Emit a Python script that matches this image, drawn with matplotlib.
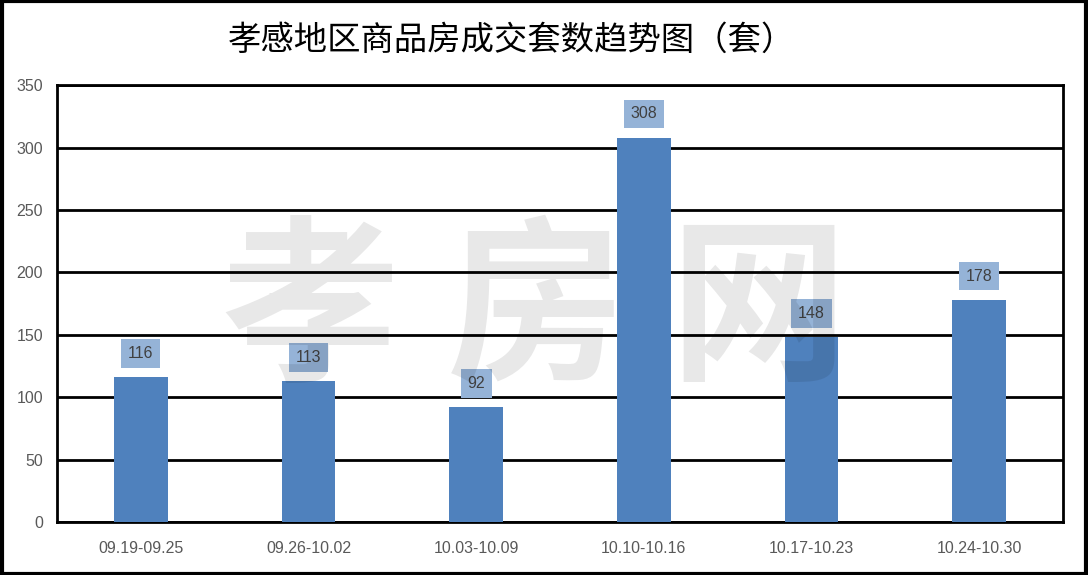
import matplotlib.pyplot as plt
from matplotlib.patches import Rectangle

plt.rcParams['font.family'] = ['Noto Sans CJK SC', 'DejaVu Sans']

# data
weeks = ["09.19-09.25", "09.26-10.02", "10.03-10.09",
         "10.10-10.16", "10.17-10.23", "10.24-10.30"]
deals = [116, 113, 92, 308, 148, 178]
y_ticks = [0, 50, 100, 150, 200, 250, 300, 350]

title_text = "孝感地区商品房成交套数趋势图（套）"
watermark_chars = ["孝", "房", "网"]

bar_color = "#4F81BD"
label_box_color = "#95B3D7"
tick_color = "#595959"

fig = plt.figure(figsize=(10.88, 5.75), dpi=100)
ax = fig.add_axes([0.0524, 0.0922, 0.9246, 0.7598])

x_pos = list(range(len(weeks)))
ax.bar(x_pos, deals, width=0.32, color=bar_color, zorder=3)

for crrt_x, crrt_val in zip(x_pos, deals):
    ax.annotate(str(crrt_val), xy=(crrt_x, crrt_val),
                xytext=(0, 17), textcoords="offset points",
                ha="center", va="center", fontsize=11.5,
                family=["Liberation Sans", "DejaVu Sans"], color="#404040",
                bbox=dict(boxstyle="square,pad=0.42", facecolor=label_box_color,
                          edgecolor="none"),
                zorder=4)

ax.set_xlim(-0.5, len(weeks) - 0.5)
ax.set_ylim(0, 350)
ax.set_yticks(y_ticks)
ax.set_xticks(x_pos)
ax.set_xticklabels(weeks)
ax.tick_params(length=0, labelsize=11.5, labelcolor=tick_color, pad=14)
ax.tick_params(axis="y", pad=10)
for lbl in ax.get_xticklabels() + ax.get_yticklabels():
    lbl.set_family(["Liberation Sans", "DejaVu Sans"])

ax.yaxis.grid(True, color="black", linewidth=2, zorder=1)
ax.set_axisbelow(True)
for spine in ax.spines.values():
    spine.set_color("black")
    spine.set_linewidth(2)

fig.text(0.47, 0.93, title_text, ha="center", va="center", fontsize=24,
         color="black")

# semi-transparent watermark on top of the plot, one character at a time
for crrt_char, crrt_xf in zip(watermark_chars, [0.285, 0.492, 0.697]):
    fig.text(crrt_xf, 0.455, crrt_char, ha="center", va="center",
             fontsize=128, fontweight="bold", color="black", alpha=0.09,
             zorder=10)

# outer border of the picture
fig.patches.append(Rectangle((0.0015, 0.0025), 0.997, 0.995, transform=fig.transFigure,
                             fill=False, edgecolor="black", linewidth=3))

fig.savefig("out.png", dpi=100)
